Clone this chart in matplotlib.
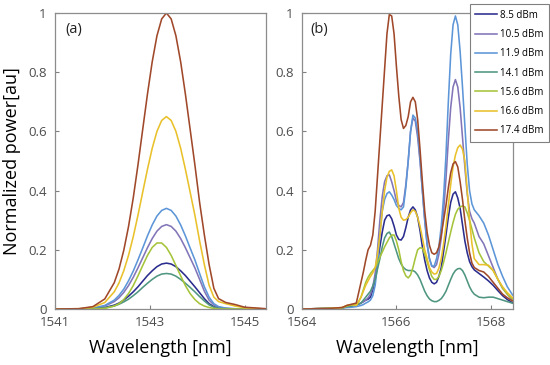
import matplotlib

matplotlib.use("Agg")
import matplotlib.pyplot as plt


plt.rcParams["font.family"] = ["Open Sans", "DejaVu Sans"]

labels = ["8.5 dBm", "10.5 dBm", "11.9 dBm", "14.1 dBm", "15.6 dBm", "16.6 dBm", "17.4 dBm"]
colors = ["#2b2d8e", "#8275b8", "#5d96d8", "#4f9680", "#a6c43a", "#e9c12b", "#a0482a"]

# (a) sampled wavelengths [nm]
wl_a = [1541.0, 1541.5, 1541.8, 1542.05, 1542.25, 1542.35, 1542.45, 1542.55, 1542.65, 1542.75,
        1542.85, 1542.95, 1543.05, 1543.15, 1543.25, 1543.35, 1543.45, 1543.55, 1543.65, 1543.75,
        1543.85, 1543.95, 1544.05, 1544.15, 1544.25, 1544.35, 1544.45, 1544.6, 1544.8, 1545.0, 1545.45]

a_85 = [0, 0, 0.001, 0.005, 0.013, 0.02, 0.03, 0.043, 0.058, 0.075, 0.094, 0.113, 0.129, 0.143, 0.152,
        0.155, 0.152, 0.143, 0.129, 0.113, 0.094, 0.075, 0.055, 0.035, 0.018, 0.008, 0.003, 0.001, 0, 0, 0]
a_105 = [0, 0, 0.002, 0.01, 0.025, 0.038, 0.056, 0.079, 0.107, 0.139, 0.173, 0.207, 0.238, 0.263, 0.279,
         0.285, 0.279, 0.263, 0.238, 0.207, 0.173, 0.139, 0.10, 0.06, 0.03, 0.014, 0.006, 0.002, 0, 0, 0]
a_119 = [0, 0, 0.003, 0.012, 0.03, 0.046, 0.067, 0.095, 0.128, 0.166, 0.206, 0.247, 0.284, 0.314, 0.333,
         0.34, 0.333, 0.314, 0.284, 0.247, 0.206, 0.166, 0.12, 0.075, 0.04, 0.018, 0.008, 0.003, 0.001, 0, 0]
a_141 = [0, 0, 0.001, 0.004, 0.01, 0.016, 0.024, 0.033, 0.045, 0.058, 0.073, 0.087, 0.1, 0.111, 0.118,
         0.12, 0.118, 0.111, 0.1, 0.087, 0.073, 0.058, 0.042, 0.027, 0.014, 0.006, 0.002, 0.001, 0, 0, 0]
a_156 = [0, 0, 0, 0.002, 0.01, 0.018, 0.032, 0.052, 0.079, 0.112, 0.147, 0.181, 0.208, 0.223, 0.223,
         0.208, 0.181, 0.147, 0.112, 0.079, 0.052, 0.032, 0.018, 0.01, 0.005, 0.002, 0, 0, 0, 0, 0]
a_166 = [0, 0.001, 0.006, 0.022, 0.058, 0.088, 0.129, 0.181, 0.244, 0.317, 0.395, 0.472, 0.543, 0.60, 0.637,
         0.65, 0.637, 0.60, 0.543, 0.472, 0.395, 0.317, 0.23, 0.15, 0.08, 0.04, 0.025, 0.018, 0.01, 0.004, 0]
a_174 = [0, 0.001, 0.008, 0.034, 0.089, 0.135, 0.198, 0.278, 0.375, 0.487, 0.607, 0.726, 0.835, 0.923, 0.98,
         1.0, 0.98, 0.923, 0.835, 0.726, 0.607, 0.487, 0.36, 0.25, 0.15, 0.07, 0.035, 0.022, 0.015, 0.006, 0.001]

# (b) sampled wavelengths [nm]
wl_b = [1564.0, 1564.6, 1564.85, 1564.95, 1565.05,
        1565.15, 1565.2, 1565.25, 1565.3, 1565.35, 1565.4, 1565.45, 1565.5, 1565.55, 1565.6,
        1565.65, 1565.7, 1565.75, 1565.8, 1565.85, 1565.9, 1565.95, 1566.0, 1566.05, 1566.1,
        1566.15, 1566.2, 1566.25, 1566.3, 1566.35, 1566.4, 1566.45, 1566.5, 1566.55, 1566.6,
        1566.65, 1566.7, 1566.75, 1566.8, 1566.85, 1566.9, 1566.95, 1567.0, 1567.05, 1567.1,
        1567.15, 1567.2, 1567.25, 1567.3, 1567.35, 1567.4, 1567.45, 1567.5, 1567.55, 1567.6,
        1567.65,
        1567.75, 1567.85, 1567.95, 1568.05, 1568.15, 1568.25, 1568.35, 1568.45, 1568.5]

b_85 = [0, 0.002, 0.004, 0.008, 0.012,
        0.015, 0.017, 0.02, 0.025, 0.03, 0.033, 0.04, 0.065, 0.10, 0.155,
        0.21, 0.26, 0.30, 0.315, 0.318, 0.305, 0.28, 0.25, 0.235, 0.233,
        0.245, 0.275, 0.31, 0.335, 0.345, 0.335, 0.31, 0.265, 0.21, 0.165,
        0.13, 0.105, 0.09, 0.085, 0.09, 0.11, 0.14, 0.195, 0.25, 0.31,
        0.36, 0.388, 0.396, 0.375, 0.34, 0.285, 0.23, 0.19, 0.16, 0.143,
        0.132,
        0.12, 0.108, 0.095, 0.08, 0.062, 0.045, 0.032, 0.022, 0.018]
b_105 = [0, 0.002, 0.004, 0.008, 0.01,
         0.012, 0.016, 0.02, 0.025, 0.03, 0.038, 0.05, 0.075, 0.12, 0.20,
         0.30, 0.38, 0.43, 0.45, 0.453, 0.43, 0.40, 0.365, 0.35, 0.345,
         0.36, 0.42, 0.50, 0.60, 0.645, 0.635, 0.58, 0.50, 0.40, 0.30,
         0.22, 0.17, 0.145, 0.14, 0.15, 0.185, 0.24, 0.33, 0.44, 0.57,
         0.68, 0.75, 0.775, 0.75, 0.68, 0.58, 0.48, 0.39, 0.33, 0.305,
         0.29,
         0.245, 0.22, 0.18, 0.14, 0.10, 0.07, 0.05, 0.032, 0.025]
b_119 = [0, 0.002, 0.003, 0.005, 0.006,
         0.008, 0.01, 0.012, 0.015, 0.02, 0.024, 0.03, 0.045, 0.08, 0.15,
         0.25, 0.33, 0.37, 0.39, 0.396, 0.385, 0.37, 0.35, 0.34, 0.335,
         0.345, 0.41, 0.50, 0.60, 0.655, 0.645, 0.60, 0.51, 0.40, 0.30,
         0.22, 0.17, 0.145, 0.145, 0.17, 0.21, 0.28, 0.38, 0.52, 0.70,
         0.86, 0.96, 0.99, 0.96, 0.87, 0.75, 0.62, 0.49, 0.40, 0.355,
         0.335,
         0.315, 0.29, 0.25, 0.20, 0.15, 0.11, 0.075, 0.05, 0.04]
b_141 = [0, 0.002, 0.004, 0.008, 0.01,
         0.015, 0.017, 0.02, 0.03, 0.04, 0.05, 0.06, 0.078, 0.10, 0.135,
         0.17, 0.21, 0.24, 0.255, 0.26, 0.245, 0.22, 0.195, 0.17, 0.152,
         0.14, 0.133, 0.13, 0.13, 0.13, 0.125, 0.115, 0.10, 0.08, 0.06,
         0.045, 0.034, 0.028, 0.025, 0.025, 0.029, 0.035, 0.046, 0.06, 0.08,
         0.10, 0.118, 0.13, 0.136, 0.137, 0.13, 0.115, 0.095, 0.075, 0.06,
         0.05,
         0.04, 0.038, 0.04, 0.04, 0.035, 0.03, 0.025, 0.02, 0.018]
b_156 = [0, 0.002, 0.004, 0.01, 0.014,
         0.015, 0.025, 0.04, 0.065, 0.09, 0.107, 0.12, 0.13, 0.14, 0.157,
         0.175, 0.192, 0.21, 0.225, 0.24, 0.25, 0.25, 0.23, 0.20, 0.16,
         0.13, 0.112, 0.105, 0.115, 0.14, 0.172, 0.20, 0.207, 0.205, 0.185,
         0.16, 0.133, 0.11, 0.10, 0.10, 0.11, 0.13, 0.158, 0.19, 0.225,
         0.26, 0.292, 0.32, 0.337, 0.345, 0.348, 0.345, 0.325, 0.30, 0.27,
         0.24,
         0.19, 0.16, 0.145, 0.13, 0.10, 0.07, 0.05, 0.035, 0.03]
b_166 = [0, 0.002, 0.005, 0.012, 0.015,
         0.012, 0.025, 0.04, 0.06, 0.08, 0.095, 0.11, 0.122, 0.14, 0.185,
         0.25, 0.33, 0.40, 0.445, 0.465, 0.47, 0.45, 0.40, 0.34, 0.31,
         0.30, 0.302, 0.31, 0.325, 0.335, 0.33, 0.31, 0.28, 0.24, 0.20,
         0.17, 0.14, 0.125, 0.118, 0.12, 0.138, 0.17, 0.22, 0.28, 0.35,
         0.42, 0.48, 0.52, 0.545, 0.554, 0.54, 0.50, 0.40, 0.30, 0.22,
         0.17,
         0.15, 0.15, 0.148, 0.13, 0.10, 0.075, 0.055, 0.04, 0.03]
b_174 = [0, 0.002, 0.005, 0.012, 0.016,
         0.02, 0.055, 0.09, 0.125, 0.165, 0.20, 0.215, 0.25, 0.33, 0.45,
         0.57, 0.69, 0.81, 0.93, 0.995, 0.99, 0.93, 0.82, 0.72, 0.64,
         0.61, 0.62, 0.65, 0.70, 0.715, 0.70, 0.64, 0.54, 0.43, 0.33,
         0.26, 0.215, 0.19, 0.185, 0.19, 0.21, 0.25, 0.30, 0.35, 0.41,
         0.46, 0.49, 0.498, 0.48, 0.43, 0.37, 0.30, 0.24, 0.19, 0.155,
         0.14,
         0.13, 0.125, 0.11, 0.09, 0.07, 0.05, 0.038, 0.028, 0.025]

series_a = [a_85, a_105, a_119, a_141, a_156, a_166, a_174]
series_b = [b_85, b_105, b_119, b_141, b_156, b_166, b_174]

yticks = [0, 0.2, 0.4, 0.6, 0.8, 1]
ytick_labels = ["0", "0.2", "0.4", "0.6", "0.8", "1"]


def style(ax, xlim, xticks, tag, tag_x):
    ax.set_xlim(*xlim)
    ax.set_ylim(0, 1)
    ax.set_xticks(xticks)
    ax.set_xticklabels([str(t) for t in xticks])
    ax.set_yticks(yticks)
    ax.set_yticklabels(ytick_labels)
    ax.tick_params(direction="in", length=3, width=0.8, color="#808080",
                   labelcolor="#4d4d4d", labelsize=9.5)
    ax.tick_params(axis="x", pad=5)
    ax.tick_params(axis="y", pad=6)
    for sp in ax.spines.values():
        sp.set_color("#8c8c8c")
        sp.set_linewidth(0.9)
    ax.set_xlabel("Wavelength [nm]", fontsize=13, labelpad=7)
    ax.text(tag_x, 0.943, tag, transform=ax.transAxes, fontsize=10.5,
            ha="left", va="center", color="#222222")


fig = plt.figure(figsize=(5.5, 3.65), dpi=100)
ax_a = fig.add_axes([55 / 550, 1 - 309 / 365, 211 / 550, 296 / 365])
ax_b = fig.add_axes([302 / 550, 1 - 309 / 365, 211 / 550, 296 / 365])

for ys, c in zip(series_a, colors):
    ax_a.plot(wl_a, ys, color=c, lw=1.15, solid_joinstyle="round")
handles = []
for ys, c, lab in zip(series_b, colors, labels):
    (ln,) = ax_b.plot(wl_b, ys, color=c, lw=1.15, solid_joinstyle="round", label=lab)
    handles.append(ln)

style(ax_a, (1541, 1545.45), [1541, 1543, 1545], "(a)", 0.047)
style(ax_b, (1564, 1568.47), [1564, 1566, 1568], "(b)", 0.04)
ax_a.set_ylabel("Normalized power[au]", fontsize=13, labelpad=5)

leg = fig.legend(handles, labels, loc="upper right",
                 bbox_to_anchor=(549 / 550, 1 - 4 / 365), fontsize=7,
                 frameon=True, fancybox=False, framealpha=1, edgecolor="#808080",
                 handlelength=2.2, handletextpad=0.3, labelspacing=0.85,
                 borderpad=0.6, borderaxespad=0)
leg.get_frame().set_linewidth(0.8)

fig.savefig("out.png", dpi=100)
